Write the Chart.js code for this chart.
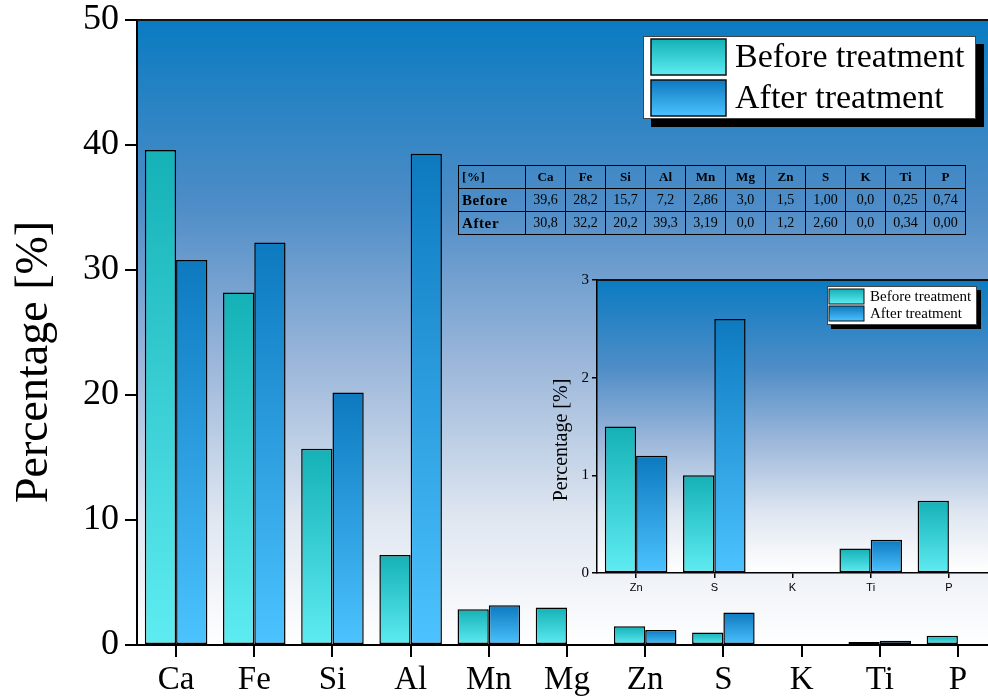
<!DOCTYPE html>
<html>
<head>
<meta charset="utf-8">
<title>Elemental composition before and after treatment</title>
<script src="https://cdn.jsdelivr.net/npm/chart.js@4.4.1/dist/chart.umd.min.js"></script>
<style>
  html, body { margin: 0; padding: 0; background: #fff; overflow: hidden; }
  #wrap { position: relative; width: 988px; height: 698px; overflow: hidden; }
  #main { position: absolute; left: 0; top: 0; }
  #inset { position: absolute; left: 540px; top: 270px; }
  #tbl {
    position: absolute; left: 458px; top: 165px;
    border-collapse: collapse;
    font-family: "Liberation Serif", "Times New Roman", serif;
    color: #000;
  }
  #tbl td {
    border: 1.5px solid #000;
    height: 22px; padding: 0;
    text-align: center; font-size: 14px; width: 39px;
    line-height: 20px;
  }
  #tbl td.rowhead { width: 63px; text-align: left; padding-left: 3px; font-weight: bold; font-size: 15px; letter-spacing: 0.6px; }
  #tbl tr.head td { font-weight: bold; font-size: 13px; }
</style>
</head>
<body>
<div id="wrap">
  <canvas id="main" width="997" height="698"></canvas>
  <table id="tbl"></table>
  <canvas id="inset" width="448" height="330"></canvas>
</div>
<script>
// Element content in percent, before and after treatment
const elements        = ['Ca', 'Fe', 'Si', 'Al', 'Mn', 'Mg', 'Zn', 'S', 'K', 'Ti', 'P'];
const beforeTreatment = [39.6, 28.2, 15.7, 7.2, 2.86, 3.0, 1.5, 1.00, 0.0, 0.25, 0.74];
const afterTreatment  = [30.8, 32.2, 20.2, 39.3, 3.19, 0.0, 1.2, 2.60, 0.0, 0.34, 0.00];
const tableDecimals   = [1, 1, 1, 1, 2, 1, 1, 2, 1, 2, 2];
const seriesNames     = ['Before treatment', 'After treatment'];
const tableRowNames   = ['Before', 'After'];
const tableCorner     = '[%]';
const axisTitle       = 'Percentage [%]';
// The inset zooms on the minor elements, from Zn onwards
const insetStart      = elements.indexOf('Zn');

const SERIF = '"Liberation Serif", "Times New Roman", serif';
const SANS  = '"Liberation Sans", Arial, sans-serif';

const palette = [
  { top: '#14b1b6', bottom: '#5eecf2' },
  { top: '#0d79bf', bottom: '#4cc3ff' }
];

// Per-bar vertical gradient, dark at the top of the bar, light at its base
function barFill(p) {
  return (ctx) => {
    const chart = ctx.chart;
    if (!chart.chartArea || ctx.type !== 'data') return p.bottom;
    const y = chart.scales.y;
    const y0 = y.getPixelForValue(0);
    const y1 = y.getPixelForValue(ctx.raw);
    if (Math.abs(y0 - y1) < 0.5) return p.bottom;
    const g = chart.ctx.createLinearGradient(0, y1, 0, y0);
    g.addColorStop(0, p.top);
    g.addColorStop(1, p.bottom);
    return g;
  };
}
const barBorder = (ctx) => (ctx.raw === 0 ? 0 : 1.5);

function makeDatasets(lo) {
  return [beforeTreatment, afterTreatment].map((vals, i) => ({
    label: seriesNames[i],
    data: vals.slice(lo),
    backgroundColor: barFill(palette[i]),
    borderColor: '#000',
    borderWidth: barBorder,
    borderSkipped: false,
    categoryPercentage: 0.8,
    barPercentage: 1.0
  }));
}

// Plot background: deep blue at the top fading to white at the axis
const plotBackground = {
  id: 'plotBackground',
  beforeDraw(chart) {
    const { ctx, chartArea: a } = chart;
    const g = ctx.createLinearGradient(0, a.top, 0, a.bottom);
    g.addColorStop(0, '#0a7bc1');
    g.addColorStop(0.3, '#4f8dc7');
    g.addColorStop(0.55, '#9cb7da');
    g.addColorStop(0.8, '#e0e7f1');
    g.addColorStop(1, '#ffffff');
    ctx.save();
    ctx.fillStyle = g;
    ctx.fillRect(a.left, a.top, a.right - a.left, a.bottom - a.top);
    ctx.restore();
  },
  afterDatasetsDraw(chart) {
    const { ctx, chartArea: a } = chart;
    ctx.save();
    ctx.strokeStyle = '#111';
    ctx.lineWidth = 2;
    ctx.beginPath();
    ctx.moveTo(a.left, a.top);
    ctx.lineTo(a.right, a.top);
    ctx.stroke();
    ctx.restore();
  }
};

// Rotated y-axis title placed at a fixed spot
const sideTitle = {
  id: 'sideTitle',
  afterDraw(chart, args, o) {
    const c = chart.ctx;
    c.save();
    c.translate(o.x, o.y);
    c.rotate(-Math.PI / 2);
    c.font = o.font;
    c.fillStyle = '#000';
    c.textAlign = 'center';
    c.textBaseline = 'middle';
    c.fillText(o.text, 0, 0);
    c.restore();
  }
};

// Framed legend with a drop shadow and gradient swatches
const boxLegend = {
  id: 'boxLegend',
  afterDraw(chart, args, o) {
    const c = chart.ctx;
    c.save();
    c.fillStyle = '#000';
    c.fillRect(o.x + o.shadow, o.y + o.shadow, o.w, o.h);
    c.fillStyle = '#fff';
    c.fillRect(o.x, o.y, o.w, o.h);
    c.strokeStyle = '#444';
    c.lineWidth = 1;
    c.strokeRect(o.x + 0.5, o.y + 0.5, o.w - 1, o.h - 1);
    chart.data.datasets.forEach((ds, i) => {
      const sy = o.sy + i * (o.sh + o.gap);
      const g = c.createLinearGradient(0, sy, 0, sy + o.sh);
      g.addColorStop(0, palette[i].top);
      g.addColorStop(1, palette[i].bottom);
      c.fillStyle = g;
      c.fillRect(o.sx, sy, o.sw, o.sh);
      c.lineWidth = o.lw;
      c.strokeStyle = '#111';
      c.strokeRect(o.sx, sy, o.sw, o.sh);
      c.fillStyle = '#000';
      c.font = o.font;
      c.textAlign = 'left';
      c.textBaseline = 'middle';
      c.fillText(ds.label, o.tx, sy + o.sh / 2 + 1);
    });
    c.restore();
  }
};

function axisScales(opt) {
  return {
    x: {
      type: 'category',
      offset: true,
      grid: { display: true, drawOnChartArea: false, drawTicks: true, offset: false,
              tickLength: opt.tick, color: '#000', lineWidth: opt.lw },
      border: { display: true, color: '#000', width: opt.lw },
      ticks: { color: '#000', font: opt.xFont, padding: opt.xPad, maxRotation: 0, autoSkip: false },
      afterFit(s) { s.height = opt.xHeight; }
    },
    y: {
      min: 0, max: opt.max,
      grid: { display: true, drawOnChartArea: false, drawTicks: true,
              tickLength: opt.tick, color: '#000', lineWidth: opt.lw },
      border: { display: true, color: '#000', width: opt.lw },
      ticks: { stepSize: opt.step, color: '#000', font: opt.yFont, padding: opt.yPad },
      afterFit(s) { s.width = opt.yWidth; }
    }
  };
}

const mainChart = new Chart(document.getElementById('main'), {
  type: 'bar',
  data: { labels: elements, datasets: makeDatasets(0) },
  plugins: [plotBackground, sideTitle, boxLegend],
  options: {
    responsive: false,
    animation: false,
    devicePixelRatio: 1,
    layout: { padding: { left: 0, right: 0, top: 20, bottom: 0 } },
    scales: axisScales({
      max: 50, step: 10, tick: 12, lw: 2,
      xFont: { family: SERIF, size: 33 }, xPad: 4, xHeight: 53,
      yFont: { family: SERIF, size: 36, lineHeight: 0.75 }, yPad: 6, yWidth: 137
    }),
    plugins: {
      legend: { display: false },
      tooltip: { enabled: false },
      sideTitle: { text: axisTitle, x: 35, y: 362, font: '46px ' + SERIF },
      boxLegend: { x: 643, y: 36, w: 333, h: 83, shadow: 8,
                   sx: 651, sy: 39, sw: 75, sh: 36, gap: 5, lw: 1.5,
                   tx: 735, font: '34px ' + SERIF }
    }
  }
});

const insetChart = new Chart(document.getElementById('inset'), {
  type: 'bar',
  data: { labels: elements.slice(insetStart), datasets: makeDatasets(insetStart) },
  plugins: [plotBackground, sideTitle, boxLegend],
  options: {
    responsive: false,
    animation: false,
    devicePixelRatio: 1,
    layout: { padding: { left: 0, right: 0, top: 10, bottom: 0 } },
    scales: axisScales({
      max: 3, step: 1, tick: 5, lw: 1.5,
      xFont: { family: SANS, size: 11 }, xPad: 3, xHeight: 27,
      yFont: { family: SERIF, size: 15, lineHeight: 0.75 }, yPad: 3, yWidth: 57
    }),
    plugins: {
      legend: { display: false },
      tooltip: { enabled: false },
      sideTitle: { text: axisTitle, x: 22, y: 170, font: '20px ' + SERIF },
      boxLegend: { x: 287, y: 16, w: 150, h: 39, shadow: 4,
                   sx: 289, sy: 19, sw: 35, sh: 15, gap: 2, lw: 1,
                   tx: 330, font: '15px ' + SERIF }
    }
  }
});

// Data table of both series, comma decimal separator
(function buildTable() {
  const tbl = document.getElementById('tbl');
  const fmt = (v, d) => v.toFixed(d).replace('.', ',');
  const head = document.createElement('tr');
  head.className = 'head';
  const corner = document.createElement('td');
  corner.className = 'rowhead';
  corner.textContent = tableCorner;
  head.appendChild(corner);
  elements.forEach((el) => {
    const td = document.createElement('td');
    td.textContent = el;
    head.appendChild(td);
  });
  tbl.appendChild(head);
  [beforeTreatment, afterTreatment].forEach((vals, r) => {
    const tr = document.createElement('tr');
    const th = document.createElement('td');
    th.className = 'rowhead';
    th.textContent = tableRowNames[r];
    tr.appendChild(th);
    vals.forEach((v, i) => {
      const td = document.createElement('td');
      td.textContent = fmt(v, tableDecimals[i]);
      tr.appendChild(td);
    });
    tbl.appendChild(tr);
  });
})();
</script>
</body>
</html>
